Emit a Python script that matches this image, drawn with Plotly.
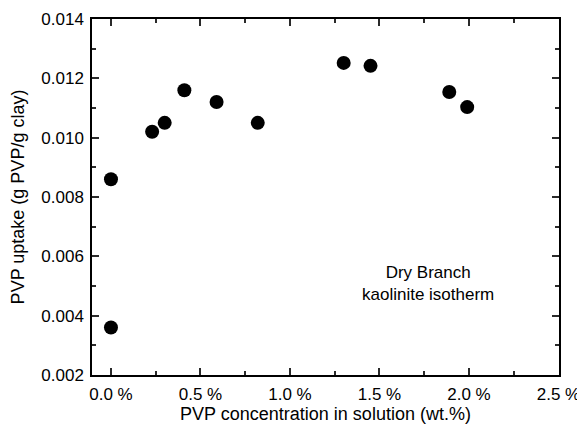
import plotly.graph_objects as go

conc_pct = [0.0, 0.0, 0.23, 0.30, 0.41, 0.59, 0.82, 1.30, 1.45, 1.89, 1.99]
uptake = [0.0036, 0.0086, 0.0102, 0.0105, 0.0116, 0.0112, 0.0105, 0.01252, 0.01242, 0.01154, 0.01103]

x_ticks = [0.0, 0.5, 1.0, 1.5, 2.0, 2.5]
x_minor = [0.25, 0.75, 1.25, 1.75, 2.25]
y_ticks = [0.002, 0.004, 0.006, 0.008, 0.010, 0.012, 0.014]
y_minor = [0.003, 0.005, 0.007, 0.009, 0.011, 0.013]

font = "Liberation Sans, Arial, Helvetica, sans-serif"
X_RANGE = [-0.106, 2.503]
Y_RANGE = [0.002, 0.014]
TICK_COLOR = "#2a2a2a"

fig = go.Figure()
fig.add_trace(go.Scatter(
    x=conc_pct, y=uptake, mode="markers",
    marker=dict(size=14, color="black"),
    showlegend=False,
))

fig.add_annotation(
    x=1.77, y=0.0051, xref="x", yref="y",
    text="Dry Branch<br>kaolinite isotherm",
    showarrow=False, font=dict(family=font, size=17, color="black"),
    align="center",
)

fig.update_xaxes(
    range=X_RANGE, tickmode="linear", tick0=0, dtick=0.5,
    tickformat=".1f", ticksuffix=" %",
    ticks="inside", ticklen=7, tickwidth=2, tickcolor=TICK_COLOR,
    ticklabelstandoff=3,
    showline=True, linecolor="black", linewidth=1.5, mirror=True,
    showgrid=False, zeroline=False, automargin=False,
    title=dict(text="PVP concentration in solution (wt.%)", font=dict(family=font, size=18, color="black"), standoff=4),
    tickfont=dict(family=font, size=17, color="black"),
)
fig.update_yaxes(
    range=Y_RANGE, tickmode="linear", tick0=0.002, dtick=0.002,
    tickformat=".3f",
    ticks="inside", ticklen=7, tickwidth=2, tickcolor=TICK_COLOR,
    ticklabelstandoff=3,
    showline=True, linecolor="black", linewidth=1.5, mirror=True,
    showgrid=False, zeroline=False, automargin=False,
    title=dict(text="PVP uptake (g PVP/g clay)", font=dict(family=font, size=18, color="black")),
    tickfont=dict(family=font, size=17, color="black"),
)

def tick_axis(rng, vals, side, overlay, length):
    return dict(overlaying=overlay, side=side, range=rng, tickmode="array", tickvals=vals,
                showticklabels=False, ticks="inside", ticklen=length, tickwidth=2,
                tickcolor=TICK_COLOR, showgrid=False, zeroline=False, showline=False,
                automargin=False, fixedrange=True)

fig.update_layout(
    xaxis2=tick_axis(X_RANGE, x_ticks, "top", "x", 7),
    xaxis3=tick_axis(X_RANGE, x_minor, "bottom", "x", 4),
    xaxis4=tick_axis(X_RANGE, x_minor, "top", "x", 4),
    yaxis2=tick_axis(Y_RANGE, y_ticks, "right", "y", 7),
    yaxis3=tick_axis(Y_RANGE, y_minor, "left", "y", 4),
    yaxis4=tick_axis(Y_RANGE, y_minor, "right", "y", 4),
)
for xa, ya in [("x2", "y2"), ("x3", "y3"), ("x4", "y4")]:
    fig.add_trace(go.Scatter(x=[None], y=[None], xaxis=xa, yaxis=ya,
                             showlegend=False, hoverinfo="skip"))

fig.update_layout(
    width=577, height=421,
    margin=dict(l=84, r=26, t=11, b=54),
    plot_bgcolor="white", paper_bgcolor="white",
)

fig.write_html("out.html")
